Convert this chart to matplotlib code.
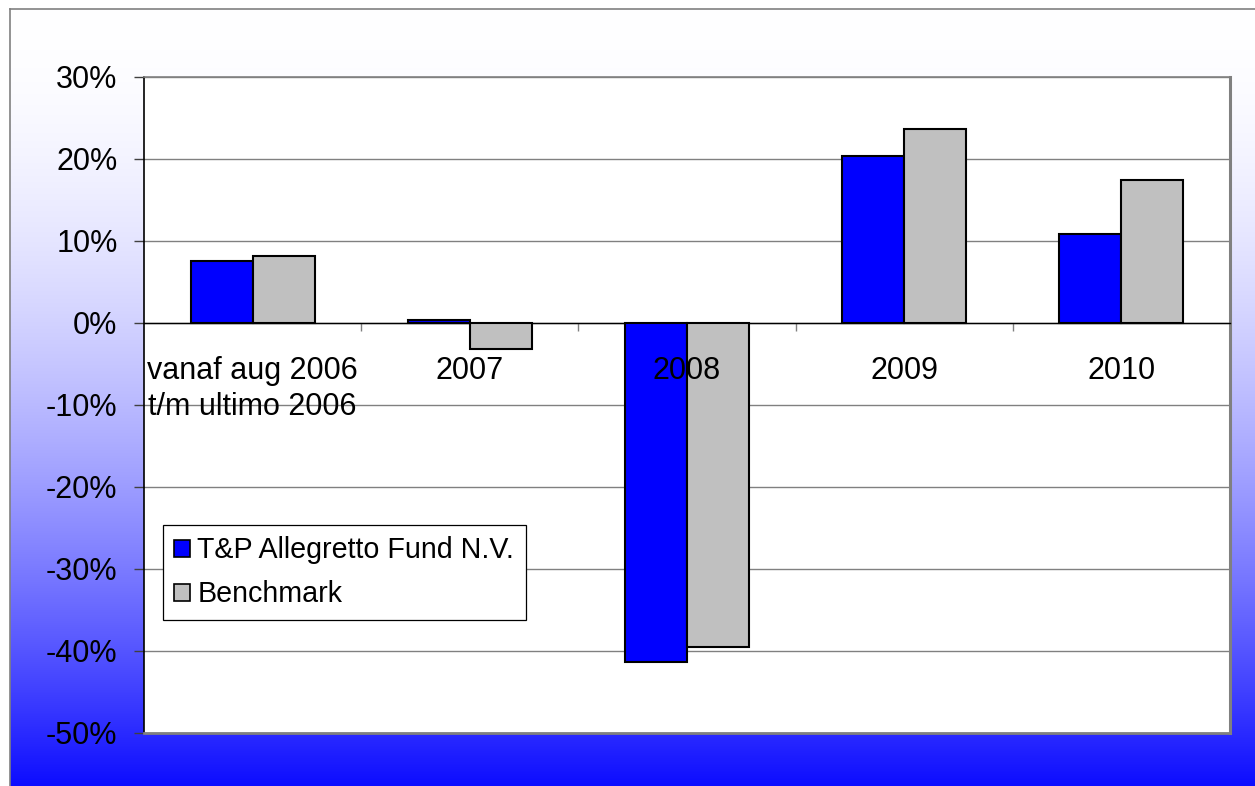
import numpy as np
import matplotlib
matplotlib.use("Agg")
import matplotlib.pyplot as plt
from matplotlib.patches import Patch
from matplotlib.transforms import ScaledTranslation

# ---- data ----
categories = ["vanaf aug 2006\nt/m ultimo 2006", "2007", "2008", "2009", "2010"]
fund = [7.6, 0.4, -41.4, 20.4, 10.8]
benchmark = [8.2, -3.2, -39.5, 23.6, 17.4]
series_names = ["T&P Allegretto Fund N.V.", "Benchmark"]
yticks = [-50, -40, -30, -20, -10, 0, 10, 20, 30]

W, H = 1255, 786
DPI = 100
plt.rcParams['font.family'] = ['Liberation Sans', 'DejaVu Sans']

fig = plt.figure(figsize=(W / DPI, H / DPI), dpi=DPI)
fig.patch.set_facecolor("white")

# ---- gradient background frame ----
bg = fig.add_axes([10 / W, 0, 1 - 10 / W, 1 - 9 / H], zorder=0)
n = 400
f = np.linspace(0, 1, n)[:, None]
d = f ** 1.85 * 0.95
img = np.zeros((n, 2, 3))
img[..., 0] = 1 - d
img[..., 1] = 1 - d
img[..., 2] = 1.0
bg.imshow(img, aspect="auto", extent=[0, 1, 1, 0], interpolation="bilinear")
bg.set_xlim(0, 1)
bg.set_ylim(1, 0)
bg.set_xticks([])
bg.set_yticks([])
for s in ["right", "bottom"]:
    bg.spines[s].set_visible(False)
for s in ["left", "top"]:
    bg.spines[s].set_color("#808080")
    bg.spines[s].set_linewidth(1.2)

# ---- main axes ----
ax = fig.add_axes([144 / W, (H - 733) / H, (1230 - 144) / W, (733 - 77) / H], zorder=1)
ax.set_facecolor("white")

x = np.arange(len(categories))
bw = 0.2855
ax.bar(x - bw / 2, fund, width=bw, color="#0000FF", edgecolor="black", linewidth=1.5, zorder=3)
ax.bar(x + bw / 2, benchmark, width=bw, color="#C0C0C0", edgecolor="black", linewidth=1.5, zorder=3)

ax.set_xlim(-0.5, len(categories) - 0.5)
ax.set_ylim(-50, 30)
ax.set_yticks(yticks)
ax.set_yticklabels([f"{v}%" for v in yticks], fontsize=22)
ax.tick_params(axis="y", direction="out", length=7, width=1, color="#404040", pad=12)
ax.yaxis.grid(True, color="#808080", linewidth=1.0, zorder=1)
ax.set_axisbelow(True)

# zero line as bottom spine with category separators
ax.spines["bottom"].set_position(("data", 0))
ax.spines["bottom"].set_color("black")
ax.spines["bottom"].set_linewidth(1.0)
ax.spines["bottom"].set_zorder(2.5)
ax.set_xticks(np.arange(0.5, len(categories) - 0.5, 1.0))
ax.set_xticklabels([])
ax.tick_params(axis="x", direction="out", length=6, width=1, color="#808080")
# plot area border
ax.axhline(-50, color="#808080", linewidth=2.0, zorder=4, clip_on=False)
ax.spines["top"].set_color("#808080")
ax.spines["top"].set_linewidth(1.2)
ax.spines["right"].set_color("#808080")
ax.spines["right"].set_linewidth(2.2)
ax.spines["left"].set_color("black")
ax.spines["left"].set_linewidth(1.2)

# category labels, placed below the zero line
off = ax.transData + ScaledTranslation(0, -33 / DPI, fig.dpi_scale_trans)
for xi, lab in zip(x, categories):
    ax.text(xi, 0, lab, transform=off, ha="center", va="top",
            fontsize=22, linespacing=1.24, zorder=6)

# legend
handles = [Patch(facecolor="#0000FF", edgecolor="black", linewidth=1.2),
           Patch(facecolor="#C0C0C0", edgecolor="black", linewidth=1.2)]
leg = fig.legend(handles, series_names, loc="upper left",
                 bbox_to_anchor=(163 / W, 1 - 525 / H), borderaxespad=0,
                 fontsize=20.6, frameon=True, fancybox=False, shadow=False,
                 handlelength=0.55, handleheight=0.55, handletextpad=0.25,
                 borderpad=0.4, labelspacing=0.56)
leg.get_frame().set_edgecolor("black")
leg.get_frame().set_linewidth(0.9)
leg.get_frame().set_facecolor("white")
leg.get_frame().set_alpha(1)
leg.set_zorder(10)

fig.savefig("out.png", dpi=DPI)
